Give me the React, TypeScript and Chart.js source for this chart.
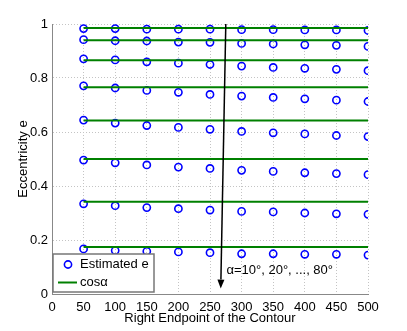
import React, { useEffect, useRef } from 'react';
import { Chart, registerables } from 'chart.js';

Chart.register(...registerables);

const xValues = [50, 100, 150, 200, 250, 300, 350, 400, 450, 500];
const alphaLabels = ['10', '20', '30', '40', '50', '60', '70', '80'];
const cosAlpha = [0.985, 0.94, 0.866, 0.766, 0.643, 0.5, 0.342, 0.174];

const est10 = [0.983, 0.983, 0.981, 0.981, 0.981, 0.979, 0.979, 0.978, 0.978, 0.976];
const est20 = [0.942, 0.938, 0.937, 0.933, 0.932, 0.928, 0.926, 0.923, 0.921, 0.917];
const est30 = [0.871, 0.867, 0.86, 0.855, 0.85, 0.844, 0.839, 0.836, 0.832, 0.827];
const est40 = [0.771, 0.763, 0.754, 0.747, 0.739, 0.733, 0.728, 0.723, 0.718, 0.713];
const est50 = [0.644, 0.633, 0.624, 0.617, 0.61, 0.602, 0.597, 0.593, 0.587, 0.583];
const est60 = [0.496, 0.486, 0.478, 0.47, 0.465, 0.458, 0.454, 0.449, 0.446, 0.442];
const est70 = [0.334, 0.327, 0.32, 0.316, 0.311, 0.306, 0.304, 0.3, 0.297, 0.295];
const est80 = [0.167, 0.161, 0.158, 0.156, 0.153, 0.149, 0.149, 0.147, 0.147, 0.144];
const estimated = [est10, est20, est30, est40, est50, est60, est70, est80];

const xTitle = 'Right Endpoint of the Contour';
const yTitle = 'Eccentricity e';
const legendLabels = ['Estimated e', 'cosα'];
const annotationText = 'α=10°, 20°, ..., 80°';
const arrowStart = { x: 275, y: 1.0 };
const arrowEnd = { x: 267, y: 0.02 };
const annotationPos = { x: 276, y: 0.088 };

const FONT = "'Liberation Sans', Arial, Helvetica, sans-serif";
const BLUE = '#0000ff';
const GREEN = '#008000';

const overlayPlugin = {
  id: 'overlay',
  afterDatasetsDraw(chart: any) {
    const ctx = chart.ctx as CanvasRenderingContext2D;
    const xs = chart.scales.x;
    const ys = chart.scales.y;
    const area = chart.chartArea;
    ctx.save();
    // arrow
    const x1 = xs.getPixelForValue(arrowStart.x);
    const y1 = ys.getPixelForValue(arrowStart.y);
    const x2 = xs.getPixelForValue(arrowEnd.x);
    const y2 = ys.getPixelForValue(arrowEnd.y);
    const ang = Math.atan2(y2 - y1, x2 - x1);
    const hl = 9;
    const hw = 3.5;
    const bx = x2 - hl * Math.cos(ang);
    const by = y2 - hl * Math.sin(ang);
    ctx.strokeStyle = '#000';
    ctx.lineWidth = 1.5;
    ctx.beginPath();
    ctx.moveTo(x1, y1);
    ctx.lineTo(bx, by);
    ctx.stroke();
    ctx.fillStyle = '#000';
    ctx.beginPath();
    ctx.moveTo(x2, y2);
    ctx.lineTo(bx + hw * Math.sin(ang), by - hw * Math.cos(ang));
    ctx.lineTo(bx - hw * Math.sin(ang), by + hw * Math.cos(ang));
    ctx.closePath();
    ctx.fill();
    // annotation text
    ctx.font = `13px ${FONT}`;
    ctx.textAlign = 'left';
    ctx.textBaseline = 'middle';
    ctx.fillText(annotationText, xs.getPixelForValue(annotationPos.x), ys.getPixelForValue(annotationPos.y));
    // legend
    const lx = area.left + 1;
    const lw = 101;
    const lh = 38;
    const ly = area.bottom - lh - 2;
    ctx.fillStyle = '#fff';
    ctx.fillRect(lx, ly, lw, lh);
    ctx.strokeStyle = '#777';
    ctx.lineWidth = 1.5;
    ctx.strokeRect(lx, ly, lw, lh);
    const r1 = ly + 10.5;
    const r2 = ly + 28.5;
    ctx.strokeStyle = BLUE;
    ctx.lineWidth = 1.6;
    ctx.beginPath();
    ctx.arc(lx + 15, r1, 3.6, 0, Math.PI * 2);
    ctx.stroke();
    ctx.strokeStyle = GREEN;
    ctx.lineWidth = 2;
    ctx.beginPath();
    ctx.moveTo(lx + 5, r2);
    ctx.lineTo(lx + 24, r2);
    ctx.stroke();
    ctx.fillStyle = '#000';
    ctx.font = `13px ${FONT}`;
    ctx.fillText(legendLabels[0], lx + 27, r1);
    ctx.fillText(legendLabels[1], lx + 27, r2);
    ctx.restore();
  },
};

export default function App() {
  const ref = useRef<HTMLCanvasElement>(null);
  useEffect(() => {
    if (!ref.current) return;
    Chart.defaults.font.family = FONT;
    Chart.defaults.font.size = 13;
    Chart.defaults.color = '#000';
    const lineSets = cosAlpha.map((c, i) => ({
      label: 'cosα ' + alphaLabels[i],
      data: [
        { x: xValues[0], y: c },
        { x: xValues[xValues.length - 1], y: c },
      ],
      showLine: true,
      borderColor: GREEN,
      backgroundColor: GREEN,
      borderWidth: 2,
      pointRadius: 0,
      order: 0,
    }));
    const pointSets = estimated.map((arr, i) => ({
      label: 'Estimated e ' + alphaLabels[i],
      data: xValues.map((x, j) => ({ x, y: arr[j] })),
      showLine: false,
      borderColor: BLUE,
      backgroundColor: 'rgba(0,0,0,0)',
      borderWidth: 1.6,
      pointRadius: 3.6,
      pointStyle: 'circle',
      order: 1,
    }));
    const chart = new Chart(ref.current, {
      type: 'scatter',
      data: { datasets: [...lineSets, ...pointSets] as any },
      options: {
        animation: false,
        responsive: false,
        layout: { padding: { left: 0, top: 24, right: 39, bottom: 0 } },
        plugins: { legend: { display: false }, tooltip: { enabled: false } },
        scales: {
          x: {
            type: 'linear',
            min: 0,
            max: 500,
            ticks: { stepSize: 50, padding: 6, color: '#000', font: { size: 13 } },
            grid: { color: '#c4c4c4', drawTicks: false, lineWidth: 1 },
            border: { display: true, color: '#888', width: 1, dash: [1, 2] },
            title: { display: true, text: xTitle, color: '#000', font: { size: 13 }, padding: { top: 0, bottom: 5 } },
            afterFit: (s: any) => { s.height = 37; },
          },
          y: {
            type: 'linear',
            min: 0,
            max: 1,
            ticks: {
              stepSize: 0.2,
              padding: 4,
              color: '#000',
              font: { size: 13 },
              callback: (v: any) => String(Math.round(Number(v) * 10) / 10),
            },
            grid: { color: '#c4c4c4', drawTicks: false, lineWidth: 1 },
            border: { display: true, color: '#888', width: 1, dash: [1, 2] },
            title: { display: true, text: yTitle, color: '#000', font: { size: 13 }, padding: { top: 16, bottom: 0 } },
            afterFit: (s: any) => { s.width = 52; },
          },
        },
      },
      plugins: [overlayPlugin],
    });
    return () => chart.destroy();
  }, []);
  return (
    <div style={{ position: 'fixed', left: 0, top: 0, width: 407, height: 331, background: '#fff' }}>
      <canvas ref={ref} width={407} height={331} style={{ width: 407, height: 331 }} />
    </div>
  );
}
